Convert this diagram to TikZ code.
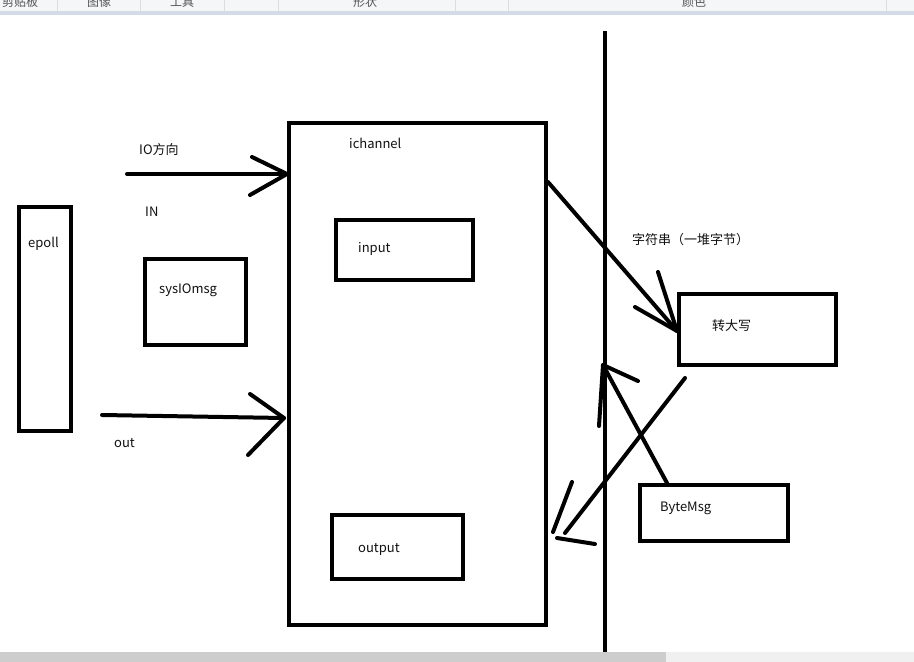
\documentclass[tikz,border=0pt]{standalone}
\usepackage{fontspec}
\setmainfont{Noto Sans CJK SC}
\definecolor{tbgray}{HTML}{F5F6F7}
\definecolor{tbblue}{HTML}{D3DBE7}
\definecolor{tbsep}{HTML}{DDDDDD}
\definecolor{tbtext}{HTML}{555555}
\definecolor{sbdark}{HTML}{CDCDCD}
\definecolor{sblight}{HTML}{F0F0F0}
\definecolor{ink}{HTML}{111111}
\begin{document}
\begin{tikzpicture}[x=1pt,y=-1pt,
  box/.style={draw=black,line width=4pt,inner sep=0pt,rectangle},
  lbl/.style={font=\fontsize{13}{15}\selectfont,text=ink,inner sep=0pt,anchor=west},
  stroke/.style={draw=black,line width=4pt,line cap=round,line join=round},
  tbl/.style={font=\fontsize{12}{14}\selectfont,text=tbtext,inner sep=0pt,anchor=base}]
\useasboundingbox (0,0) rectangle (914,662);
\fill[white] (0,0) rectangle (914,662);
% toolbar
\begin{scope}
\clip (0,0) rectangle (914,11);
\fill[tbgray] (0,0) rectangle (914,11);
\foreach \sx in {57,140,224,278,455,508,886} \draw[tbsep,line width=1pt] (\sx,0) -- (\sx,11);
\node[tbl] (tb1) at (20,6) {剪贴板};
\node[tbl] (tb2) at (99,6) {图像};
\node[tbl] (tb3) at (182,6) {工具};
\node[tbl] (tb4) at (365,6) {形状};
\node[tbl] (tb5) at (694,6) {颜色};
\end{scope}
\fill[tbblue] (0,11) rectangle (914,15);
% scrollbar
\fill[sbdark] (0,652) rectangle (666,662);
\fill[sblight] (666,652) rectangle (914,662);
% boxes
\node[box,minimum width=52pt,minimum height=224pt] (epoll) at (45,319) {};
\node[box,minimum width=101pt,minimum height=86pt] (sys) at (195.5,302) {};
\node[box,minimum width=257pt,minimum height=502pt] (ichannel) at (417.5,374) {};
\node[box,minimum width=137pt,minimum height=60pt] (input) at (404.5,250) {};
\node[box,minimum width=131pt,minimum height=64pt] (output) at (397.5,547) {};
\node[box,minimum width=157pt,minimum height=71pt] (upper) at (757.5,329.5) {};
\node[box,minimum width=148pt,minimum height=56pt] (bytemsg) at (714,513) {};
% divider
\coordinate (divT) at (605,31);
\coordinate (divB) at (605,652);
\draw[black,line width=4.5pt] (divT) -- (divB);
% labels
\node[lbl] (tepoll) at (28,244) {epoll};
\node[lbl] (tsys) at (159,290) {sysIOmsg};
\node[lbl] (tich) at (349,143) {ichannel};
\node[lbl] (tin) at (358,249) {input};
\node[lbl] (tout) at (358,549) {output};
\node[lbl] (tup) at (712,326) {转大写};
\node[lbl] (tbyte) at (660,508) {ByteMsg};
\node[lbl] (tstr) at (632,240) {字符串（一堆字节）};
\node[lbl] (tio) at (139,150) {IO方向};
\node[lbl] (tIN) at (145,212) {IN};
\node[lbl] (tOUT) at (114,443) {out};
% IN arrow
\coordinate (inS) at (127,174);
\coordinate (inT) at (ichannel.west |- inS);
\coordinate (inH1) at (252,157);
\coordinate (inH2) at (250,195);
\draw[stroke] (inS) -- (inT);
\draw[stroke] (inH1) -- (inT) -- (inH2);
% out arrow
\coordinate (outS) at (102,415);
\coordinate (outT) at (284,418);
\coordinate (outH1) at (250,394);
\coordinate (outH2) at (248,455);
\draw[stroke] (outS) -- (outT);
\draw[stroke] (outH1) -- (outT) -- (outH2);
% ichannel -> upper
\coordinate (a1S) at (ichannel.east |- 0,182);
\coordinate (a1T) at (677,331);
\coordinate (a1H1) at (658,272);
\coordinate (a1H2) at (635,307);
\draw[stroke] (a1S) -- (a1T);
\draw[stroke] (a1H1) -- (a1T) -- (a1H2);
% bytemsg -> divider
\coordinate (a2S) at (bytemsg.north -| 667,0);
\coordinate (a2T) at (603,365);
\coordinate (a2H1) at (638,381);
\coordinate (a2H2) at (599,426);
\draw[stroke] (a2S) -- (a2T);
\draw[stroke] (a2H1) -- (a2T) -- (a2H2);
% upper -> output side
\coordinate (a3S) at (685,378);
\coordinate (a3T) at (565,533);
\coordinate (a3H1) at (572,482);
\coordinate (a3H1e) at (553,532);
\coordinate (a3H2) at (557,538);
\coordinate (a3H2e) at (595,544);
\draw[stroke] (a3S) -- (a3T);
\draw[stroke] (a3H1) -- (a3H1e);
\draw[stroke] (a3H2) -- (a3H2e);
\end{tikzpicture}
\end{document}
